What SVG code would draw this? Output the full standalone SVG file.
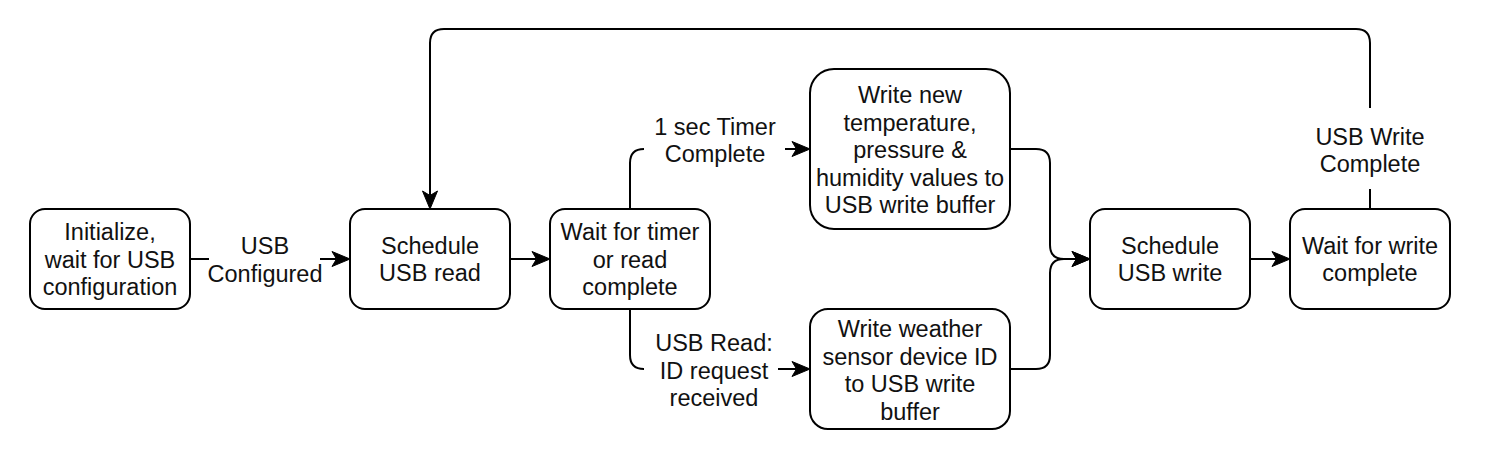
<svg xmlns="http://www.w3.org/2000/svg" width="1486" height="466" viewBox="0 0 1486 466">
<style>
.box{fill:#fff;stroke:#000;stroke-width:2}
.edge{fill:none;stroke:#000;stroke-width:2}
text{font-family:"Liberation Sans",Arial,Helvetica,sans-serif;font-size:23.5px;fill:#111;text-anchor:middle}
</style>
<defs>
<marker id="arr" viewBox="-6 -9 21 18" refX="0" refY="0" markerWidth="21" markerHeight="18" orient="auto" markerUnits="userSpaceOnUse">
<path d="M13.5,0 L-4.5,-7.5 L0,0 L-4.5,7.5 Z" fill="#000" stroke="#000" stroke-width="1" stroke-linejoin="miter"/>
</marker>
</defs>
<rect width="1486" height="466" fill="#fff"/>
<g id="connectors">
<path class="edge" d="M190,259 H209 M320,259 H336.5" marker-end="url(#arr)"/>
<path class="edge" d="M510,259 H536.5" marker-end="url(#arr)"/>
<path class="edge" d="M630,209 V163 Q630,149 644,149 M785,149 H796.5" marker-end="url(#arr)"/>
<path class="edge" d="M630,309 V355 Q630,369 644,369 M778,369 H796.5" marker-end="url(#arr)"/>
<path class="edge" d="M1010,149 H1036 Q1050,149 1050,163 V245 Q1050,259 1064,259 H1076.5" marker-end="url(#arr)"/>
<path class="edge" d="M1010,369 H1036 Q1050,369 1050,355 V273 Q1050,259 1064,259 H1076.5" marker-end="url(#arr)"/>
<path class="edge" d="M1250,259 H1276.5" marker-end="url(#arr)"/>
<path class="edge" d="M1370,209 V189 M1370,108 V43 Q1370,29 1356,29 H444 Q430,29 430,43 V195.5" marker-end="url(#arr)"/>
<text x="265" y="254">USB</text>
<text x="265" y="281.5">Configured</text>
<text x="715" y="134.5">1 sec Timer</text>
<text x="715" y="162">Complete</text>
<text x="714" y="351">USB Read:</text>
<text x="714" y="378.5">ID request</text>
<text x="714" y="406">received</text>
<text x="1370" y="144.5">USB Write</text>
<text x="1370" y="172">Complete</text>
</g>
<g id="init">
<rect class="box" x="30" y="209" width="160" height="100" rx="15"/>
<text x="110" y="240">Initialize,</text>
<text x="110" y="267.5">wait for USB</text>
<text x="110" y="295">configuration</text>
</g>
<g id="schedule-read">
<rect class="box" x="350" y="209" width="160" height="100" rx="15"/>
<text x="430" y="253.75">Schedule</text>
<text x="430" y="281.25">USB read</text>
</g>
<g id="wait-timer">
<rect class="box" x="550" y="209" width="160" height="100" rx="15"/>
<text x="630" y="240">Wait for timer</text>
<text x="630" y="267.5">or read</text>
<text x="630" y="295">complete</text>
</g>
<g id="write-values">
<rect class="box" x="810" y="69" width="200" height="160" rx="24"/>
<text x="910" y="103">Write new</text>
<text x="910" y="130.5">temperature,</text>
<text x="910" y="158">pressure &amp;</text>
<text x="910" y="185.5">humidity values to</text>
<text x="910" y="213">USB write buffer</text>
</g>
<g id="write-id">
<rect class="box" x="810" y="309" width="200" height="120" rx="18"/>
<text x="910" y="337.25">Write weather</text>
<text x="910" y="364.75">sensor device ID</text>
<text x="910" y="392.25">to USB write</text>
<text x="910" y="419.75">buffer</text>
</g>
<g id="schedule-write">
<rect class="box" x="1090" y="209" width="160" height="100" rx="15"/>
<text x="1170" y="253.75">Schedule</text>
<text x="1170" y="281.25">USB write</text>
</g>
<g id="wait-write">
<rect class="box" x="1290" y="209" width="160" height="100" rx="15"/>
<text x="1370" y="253.75">Wait for write</text>
<text x="1370" y="281.25">complete</text>
</g>
</svg>
